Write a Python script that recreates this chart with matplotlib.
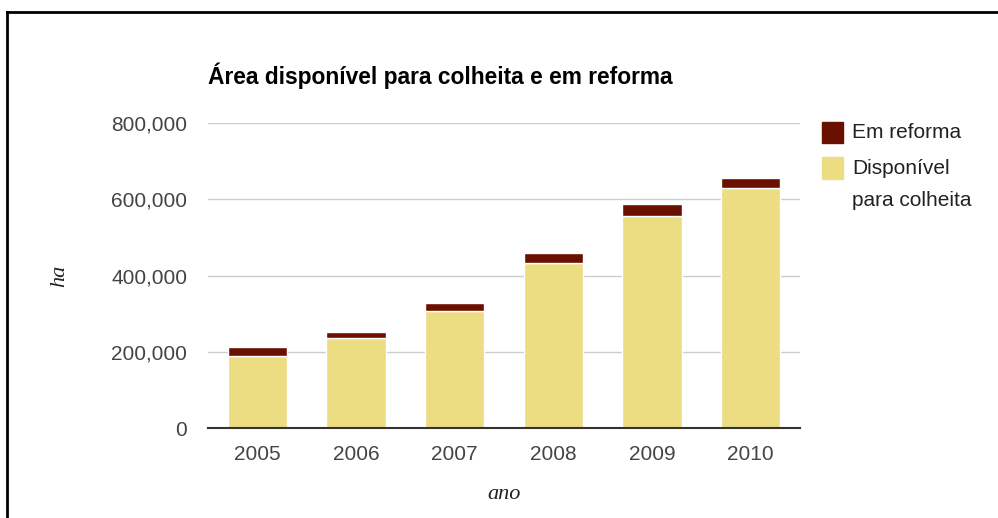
import matplotlib
matplotlib.use("Agg")
import matplotlib.pyplot as plt
from matplotlib.patches import Rectangle
from matplotlib.lines import Line2D
from matplotlib.ticker import FuncFormatter

anos = ["2005", "2006", "2007", "2008", "2009", "2010"]
disponivel = [190000, 237000, 308000, 432000, 556000, 630000]
em_reforma = [23000, 14000, 20000, 26000, 31000, 25000]
yticks = [0, 200000, 400000, 600000, 800000]

COR_DISP = "#ecdc82"
COR_REF = "#6a1000"
W, H = 998, 518

fig = plt.figure(figsize=(W / 100, H / 100), dpi=100)
ax = fig.add_axes([208 / W, (H - 428) / H, (800 - 208) / W, (428 - 123) / H])

x = list(range(len(anos)))
ax.bar(x, disponivel, width=0.6, color=COR_DISP, edgecolor="white", linewidth=1, zorder=3)
ax.bar(x, em_reforma, bottom=disponivel, width=0.6, color=COR_REF, edgecolor="white",
       linewidth=1, zorder=3)

ax.set_xlim(-0.5, len(anos) - 0.5)
ax.set_ylim(0, 800000)
ax.set_yticks(yticks)
ax.yaxis.set_major_formatter(FuncFormatter(lambda v, p: f"{int(v):,}"))
ax.set_xticks(x)
ax.set_xticklabels(anos)
ax.grid(axis="y", color="#cccccc", linewidth=1, zorder=0)
for s in ["top", "right", "left"]:
    ax.spines[s].set_visible(False)
ax.spines["bottom"].set_color("#333333")
ax.spines["bottom"].set_linewidth(1.5)
ax.spines["bottom"].set_zorder(4)
ax.tick_params(length=0, labelsize=15, labelcolor="#444444")
ax.tick_params(axis="y", pad=15)
ax.tick_params(axis="x", pad=12.5)
for lab in ax.get_xticklabels() + ax.get_yticklabels():
    lab.set_fontfamily("Liberation Sans")

ax.set_xlabel("ano", fontfamily="Liberation Serif", fontstyle="italic", fontsize=16,
              color="#222222", labelpad=15)
ax.set_ylabel("ha", fontfamily="Liberation Serif", fontstyle="italic", fontsize=16,
              color="#222222", labelpad=30)

titulo = fig.text(208 / W, 1 - 76 / H, "Área disponível para colheita e em reforma",
                  fontsize=15, fontweight="bold", fontfamily="Liberation Sans",
                  va="center", ha="left")
# size the title so it spans 468 px
r = fig.canvas.get_renderer()
largura = titulo.get_window_extent(renderer=r).width
titulo.set_fontsize(15 * 468 / largura)

# legend, drawn in figure pixel space
def px(xp, yp):
    return xp / W, 1 - yp / H

itens = [(COR_REF, 122, 143, 133, ["Em reforma"]),
         (COR_DISP, 157, 179, 169, ["Disponível", "para colheita"])]
for cor, y0, y1, yt, linhas in itens:
    fig.patches.append(Rectangle(px(822, y1), 21 / W, (y1 - y0) / H, color=cor,
                                 transform=fig.transFigure, figure=fig))
    for i, t in enumerate(linhas):
        fig.text(*px(852, yt + i * 31), t, fontsize=15,
                 fontfamily="Liberation Sans", color="#222222", va="center", ha="left")

# outer frame (top and left edges)
fig.lines.append(Line2D([7 / W, 7 / W], [0, 1 - 12 / H], color="black", linewidth=2,
                        transform=fig.transFigure, figure=fig))
fig.lines.append(Line2D([7 / W, 1], [1 - 12 / H, 1 - 12 / H], color="black", linewidth=2,
                        transform=fig.transFigure, figure=fig))

fig.savefig("out.png", dpi=100)
